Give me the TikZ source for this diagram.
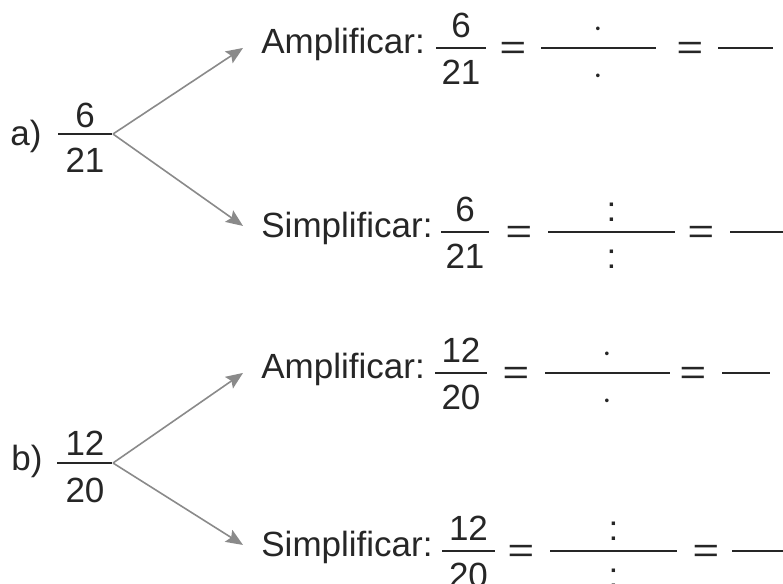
\documentclass[tikz,border=0pt]{standalone}
\usepackage{fontspec}
\usepackage{graphicx}
\setmainfont{Liberation Sans}
\usetikzlibrary{arrows.meta}
\definecolor{tinta}{HTML}{262626}
\definecolor{gris}{HTML}{8A8A8A}
\tikzset{
  txt/.style={inner sep=0pt, text=tinta, anchor=base},
  barra/.style={draw=tinta, line width=1pt},
  flecha/.style={draw=gris, line width=0.8pt, -{Stealth[length=8.5pt,width=7pt,inset=1.5pt]}},
}
\newcommand{\igual}{\scalebox{1.3}[1]{=}}
\begin{document}
\begin{tikzpicture}[x=0.5pt,y=-0.5pt,font=\fontsize{17.5}{20}\selectfont]
   \useasboundingbox (0,0) rectangle (783,584);

   % a) 6/21
   \node[txt, anchor=base west] (etqa) at (10,145) {a)};
   \draw[barra] (58,134) -- (112,134);
   \node[txt] (numa) at (85,127) {6};
   \node[txt] (dena) at (85,172) {21};
   \coordinate (a0) at (113,134);

   % b) 12/20
   \node[txt, anchor=base west] (etqb) at (11,470) {b)};
   \draw[barra] (57,463) -- (112,463);
   \node[txt] (numb) at (85,455) {12};
   \node[txt] (denb) at (85,502) {20};
   \coordinate (b0) at (113,463);

   % filas: etiqueta, fraccion = hueco = hueco
   \foreach \f/\y/\etq/\n/\d/\op/\xa/\xb/\xe/\xc/\xd/\xg/\xs/\xt in {
      A1/48/Amplificar:/6/21/{$\cdot$}/436/486/513/541/656/690/718/773,
      A2/232/Simplificar:/6/21/:/441/489/519/548/675/701/730/790,
      B1/373/Amplificar:/12/20/{$\cdot$}/435/487/516/545/670/693/722/770,
      B2/551/Simplificar:/12/20/:/442/495/521/550/677/706/732/790}{
      \node[txt, anchor=base west] (etq\f) at (261,\y+5) {\etq};
      \draw[barra] (\xa,\y) -- (\xb,\y);
      \node[txt] (num\f) at ({(\xa+\xb)/2},\y-11) {\n};
      \node[txt] (den\f) at ({(\xa+\xb)/2},\y+36) {\d};
      \node[txt] (igA\f) at (\xe,\y+11) {\igual};
      \draw[barra] (\xc,\y) -- (\xd,\y);
      \node[txt] (opn\f) at ({(\xc+\xd)/2},\y-11) {\op};
      \node[txt] (opd\f) at ({(\xc+\xd)/2},\y+36) {\op};
      \node[txt] (igB\f) at (\xg,\y+11) {\igual};
      \draw[barra] (\xs,\y) -- (\xt,\y);
   }

   % flechas
   \draw[flecha] (a0) -- ([xshift=-9pt,yshift=-2pt]etqA1.west);
   \draw[flecha] (a0) -- ([xshift=-9pt,yshift=1pt]etqA2.west);
   \draw[flecha] (b0) -- ([xshift=-9pt,yshift=-2pt]etqB1.west);
   \draw[flecha] (b0) -- ([xshift=-9pt,yshift=1pt]etqB2.west);
\end{tikzpicture}
\end{document}
